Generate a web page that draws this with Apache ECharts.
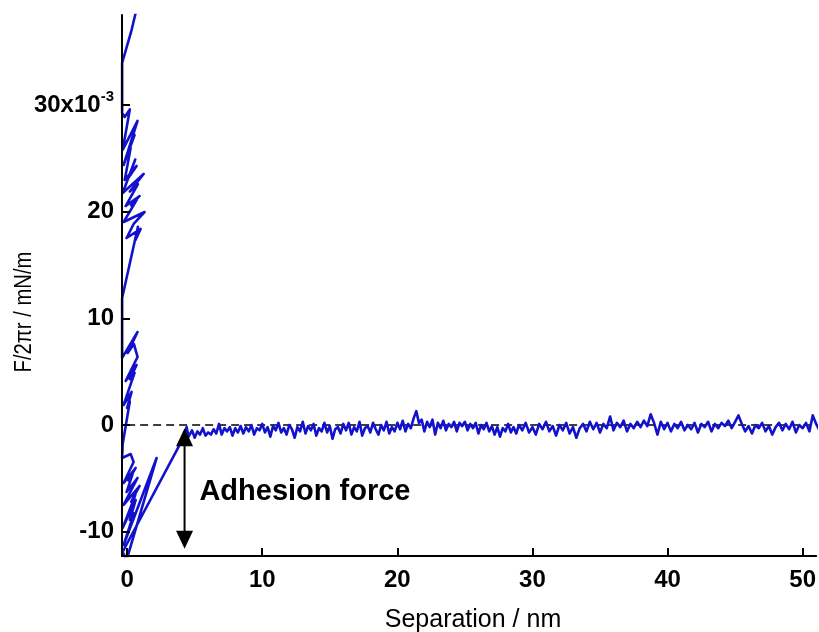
<!DOCTYPE html>
<html>
<head>
<meta charset="utf-8">
<script src="https://cdn.jsdelivr.net/npm/echarts@6/dist/echarts.min.js"></script>
<style>
  html, body { margin: 0; padding: 0; background: #fff; }
  #chart { width: 819px; height: 632px; }
</style>
</head>
<body>
<div id="chart"></div>
<script>
// Retraction force curve: separation (nm) vs F/2πr (x10^-3 mN/m)

// Contact region (stick-slip scribble along the wall) and the jump-out line
const wallTrace = [
  [0.77, 39.4], [0.33, 37.05], [-0.37, 33.96], [-0.37, 29.27],
  [-0.18, 28.89], [0.2, 29.6], [-0.33, 25.8], [0.77, 28.52], [-0.26, 24.39], [0.55, 27.2],
  [-0.1, 25.1], [0.26, 25.98], [-0.18, 22.98], [0.70, 24.3], [0.1, 23.2], [0.6, 24.9],
  [-0.33, 21.76], [1.22, 23.55], [0.2, 21.9], [0.8, 22.6], [-0.11, 20.54],
  [0.92, 21.48], [0.3, 20.6], [0.7, 21.1], [-0.26, 19.04], [1.29, 19.98], [0.5, 18.9],
  [-0.04, 17.54], [1.0, 18.39], [0.6, 17.3], [0.8, 18.6],
  [-0.37, 11.91], [-0.37, 6.29],
  [0.77, 8.72], [0.04, 6.75], [0.5, 7.6], [0.77, 6.38], [-0.11, 4.13], [0.70, 5.63],
  [0.2, 4.3], [0.55, 4.9], [-0.26, 1.88], [0.33, 3.1], [0.0, 1.6], [0.2, 2.2], [-0.33, -1.78], [-0.37, -3.1],
  [0.26, -2.72], [0.48, -3.47], [-0.26, -5.44], [0.63, -4.03], [0.1, -5.2], [0.4, -4.6], [-0.04, -6.29],
  [0.77, -4.97], [-0.26, -7.5], [0.92, -5.72], [0.3, -7.2], [0.6, -6.6], [-0.33, -9.66], [0.63, -7.04],
  [0.2, -8.9], [0.5, -8.3], [-0.26, -11.26], [2.18, -3.1], [-0.04, -12.66], [-0.33, -11.91], [-0.18, -11.54],
  [4.24, -1.03]
];

// Non-contact region: noise around zero force
const freeTrace = [
  [4.4,-0.2],[4.55,-1.1],[4.8,-0.5],[5.0,-1.2],[5.2,-0.6],[5.4,-0.9],[5.6,-0.3],[5.8,-1.0],
  [6.0,-0.7],[6.2,-0.9],[6.4,-0.4],[6.6,-0.8],[6.8,0.1],[7.0,-0.9],[7.2,-0.3],[7.4,-0.6],
  [7.6,-0.2],[7.8,-1.0],[8.0,-0.3],[8.2,-0.7],[8.4,-0.1],[8.6,-0.8],[8.8,-0.2],[9.0,-0.6],
  [9.2,0.0],[9.4,-0.9],[9.6,-0.3],[9.8,-0.5],[10.0,0.1],[10.2,-0.7],[10.4,-0.2],[10.6,-1.1],
  [10.8,-0.1],[11.0,-0.5],[11.2,0.2],[11.4,-0.7],[11.6,-0.3],[11.8,-0.9],[12.0,0.0],[12.2,-0.4],
  [12.4,-1.2],[12.6,-0.2],[12.8,-0.6],[13.0,0.3],[13.2,-0.8],[13.4,-0.1],[13.6,-0.5],[13.8,0.1],
  [14.0,-1.0],[14.2,-0.3],[14.4,-0.6],[14.6,0.2],[14.8,-0.7],[15.0,-0.1],[15.2,-1.3],[15.4,-0.4],
  [15.6,-0.2],[15.8,-0.8],[16.0,0.1],[16.2,-0.5],[16.4,0.2],[16.6,-0.9],[16.8,-0.2],[17.0,-0.6],
  [17.2,0.3],[17.4,-1.0],[17.6,-0.3],[17.8,-0.1],[18.0,-0.7],[18.2,0.2],[18.4,-0.4],[18.6,-0.9],
  [18.8,0.0],[19.0,-0.5],[19.2,0.3],[19.4,-0.8],[19.6,-0.2],[19.8,-0.6],[20.0,0.2],[20.2,-0.4],
  [20.4,0.4],[20.6,-0.6],[20.8,0.1],[21.0,-0.3],[21.2,0.6],[21.4,1.3],[21.6,0.2],[21.8,0.5],
  [22.0,-0.6],[22.2,0.3],[22.4,-0.2],[22.6,0.5],[22.8,-0.9],[23.0,0.2],[23.2,-0.3],[23.4,0.4],
  [23.6,-0.5],[23.8,0.1],[24.0,-0.2],[24.2,0.3],[24.4,-0.6],[24.6,0.2],[24.8,-0.1],[25.0,0.3],
  [25.2,-0.5],[25.4,0.1],[25.6,-0.3],[25.8,0.2],[26.0,-0.8],[26.2,0.0],[26.4,-0.4],[26.6,0.2],
  [26.8,-0.6],[27.0,-0.1],[27.2,-0.9],[27.4,-0.2],[27.6,-1.1],[27.8,-0.3],[28.0,-0.6],[28.2,0.1],
  [28.4,-0.7],[28.6,-0.2],[28.8,-0.8],[29.0,0.0],[29.25,-0.5],[29.5,0.2],[29.75,-0.7],[30.0,-0.2],
  [30.25,-0.9],[30.5,0.1],[30.75,-0.4],[31.0,0.3],[31.25,-0.6],[31.5,-0.1],[31.75,-1.0],[32.0,0.0],
  [32.25,-0.5],[32.5,0.2],[32.75,-0.8],[33.0,-0.2],[33.25,-1.2],[33.5,-0.3],[33.75,0.1],[34.0,-0.6],
  [34.25,0.3],[34.5,-0.4],[34.75,0.2],[35.0,-0.7],[35.25,0.1],[35.5,-0.3],[35.75,0.8],[36.0,-0.5],
  [36.25,0.2],[36.5,-0.2],[36.75,0.4],[37.0,-0.6],[37.25,0.1],[37.5,-0.3],[37.75,0.3],[38.0,-0.2],
  [38.25,0.4],[38.5,-0.1],[38.75,1.0],[39.0,0.2],[39.25,-0.9],[39.5,0.3],[39.75,-0.4],[40.0,0.2],
  [40.25,-0.6],[40.5,0.1],[40.75,-0.3],[41.0,0.3],[41.25,-0.5],[41.5,0.0],[41.75,-0.4],[42.0,0.2],
  [42.25,-0.7],[42.5,0.1],[42.75,-0.2],[43.0,0.3],[43.25,-0.6],[43.5,0.1],[43.75,-0.3],[44.0,0.2],
  [44.25,-0.1],[44.5,0.4],[44.75,-0.3],[45.0,0.3],[45.25,0.9],[45.5,0.1],[45.75,-0.6],[46.0,-0.1],
  [46.25,-0.8],[46.5,0.0],[46.75,-0.3],[47.0,0.2],[47.25,-0.6],[47.5,-0.1],[47.75,-0.9],[48.0,-0.2],
  [48.25,0.2],[48.5,-0.5],[48.75,0.1],[49.0,-0.4],[49.25,0.3],[49.5,-0.7],[49.75,0.0],[50.0,-0.3],
  [50.25,0.2],[50.5,-0.6],[50.75,0.9],[51.0,0.1],[51.2,-0.4]
];

// Zero-force reference line
const zeroLine = [[0, 0], [51.2, 0]];

// Adhesion force annotation: arrow from the jump-out point down to the force minimum
const adhesionArrow = { x: 4.25, top: -0.3, bottom: -11.6 };
const adhesionLabel = { text: 'Adhesion force', x: 5.35, y: -6.3 };

// Axis ticks
const xTicks = [0, 10, 20, 30, 40, 50];
const yTicks = [-10, 0, 10, 20, 30];
const xRange = [-0.38, 51.0];
const yRange = [-12.29, 38.46];

const FONT = '"Liberation Sans", Arial, Helvetica, sans-serif';
const BLUE = '#1212cc';

const chart = echarts.init(document.getElementById('chart'), null, { renderer: 'canvas' });

const option = {
  animation: false,
  backgroundColor: '#ffffff',
  grid: { left: 122, right: 0, top: 15, bottom: 76, containLabel: false },
  xAxis: {
    type: 'value',
    min: xRange[0], max: xRange[1],
    z: 5,
    axisLine: { onZero: false, lineStyle: { color: '#000', width: 2 } },
    axisTick: { inside: true, length: 8, customValues: xTicks, lineStyle: { color: '#000', width: 2 } },
    axisLabel: {
      customValues: xTicks, margin: 12,
      color: '#000', fontFamily: FONT, fontWeight: 'bold', fontSize: 24
    },
    splitLine: { show: false }
  },
  yAxis: {
    type: 'value',
    min: yRange[0], max: yRange[1],
    z: 5,
    axisLine: { onZero: false, lineStyle: { color: '#000', width: 2 } },
    axisTick: { inside: true, length: 8, customValues: yTicks, lineStyle: { color: '#000', width: 2 } },
    axisLabel: {
      customValues: yTicks, margin: 8,
      color: '#000', fontFamily: FONT, fontWeight: 'bold', fontSize: 24,
      formatter: function (v) {
        return v === 30 ? '{b|30x10}{s|-3}' : '{b|' + v + '}';
      },
      rich: {
        b: { fontFamily: FONT, fontWeight: 'bold', fontSize: 24, color: '#000' },
        s: { fontFamily: FONT, fontWeight: 'bold', fontSize: 15, color: '#000', padding: [0, 0, 17, 0], verticalAlign: 'bottom' }
      }
    },
    splitLine: { show: false }
  },
  series: [
    {
      name: 'zero',
      type: 'line',
      data: zeroLine,
      symbol: 'none',
      z: 1,
      lineStyle: { color: '#000', width: 1.5, type: [8, 5] }
    },
    {
      name: 'retract',
      type: 'line',
      data: wallTrace.concat(freeTrace),
      symbol: 'none',
      z: 2,
      clip: true,
      lineStyle: { color: BLUE, width: 2.6, join: 'round', cap: 'round' }
    }
  ]
};

chart.setOption(option);

// Annotations placed through the chart's own coordinate system
const px = (x, y) => chart.convertToPixel({ gridIndex: 0 }, [x, y]);
const aTop = px(adhesionArrow.x, adhesionArrow.top);
const aBot = px(adhesionArrow.x, adhesionArrow.bottom);
const head = 18, half = 8.5;
const lab = px(adhesionLabel.x, adhesionLabel.y);

chart.setOption({
  graphic: [
    {
      type: 'line', z: 10,
      shape: { x1: aTop[0], y1: aTop[1] + head - 2, x2: aBot[0], y2: aBot[1] - head + 2 },
      style: { stroke: '#000', lineWidth: 2 }
    },
    {
      type: 'polygon', z: 10,
      shape: { points: [[aTop[0], aTop[1]], [aTop[0] - half, aTop[1] + head], [aTop[0] + half, aTop[1] + head]] },
      style: { fill: '#000' }
    },
    {
      type: 'polygon', z: 10,
      shape: { points: [[aBot[0], aBot[1]], [aBot[0] - half, aBot[1] - head], [aBot[0] + half, aBot[1] - head]] },
      style: { fill: '#000' }
    },
    {
      type: 'text', z: 10,
      x: lab[0], y: lab[1],
      style: {
        text: adhesionLabel.text, fill: '#000',
        font: 'bold 29px ' + FONT,
        textAlign: 'left', textVerticalAlign: 'middle'
      }
    },
    {
      type: 'text', z: 10,
      x: 473, y: 620,
      style: {
        text: 'Separation / nm', fill: '#000',
        font: '25px ' + FONT,
        textAlign: 'center', textVerticalAlign: 'middle'
      }
    },
    {
      type: 'text', z: 10,
      x: 25, y: 312, rotation: Math.PI / 2, scaleX: 0.88,
      style: {
        text: 'F/2πr / mN/m', fill: '#000',
        font: '23px ' + FONT,
        textAlign: 'center', textVerticalAlign: 'middle'
      }
    }
  ]
});
</script>
</body>
</html>
